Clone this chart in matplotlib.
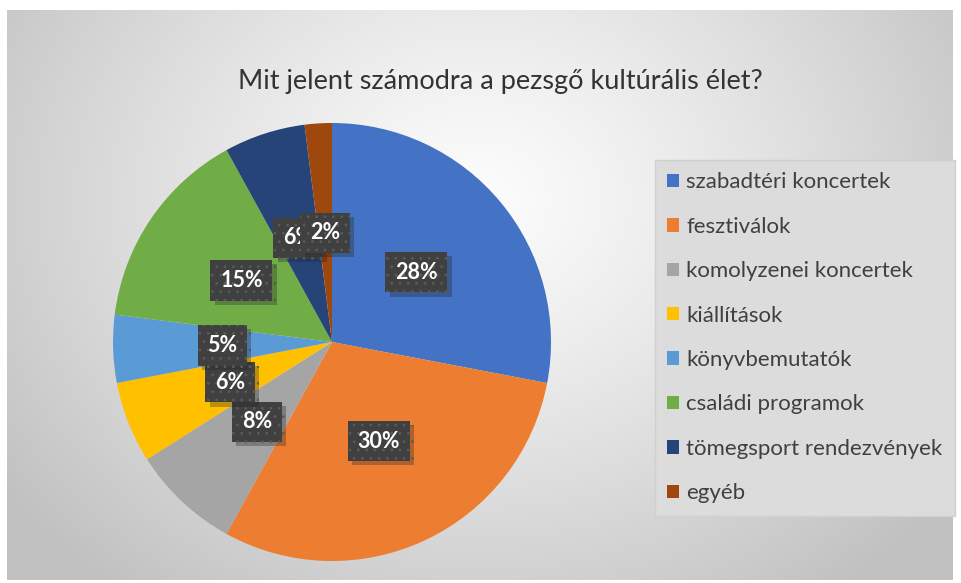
import matplotlib.pyplot as plt
import numpy as np
from matplotlib.patches import Patch
import matplotlib.patheffects as pe

plt.rcParams['font.family'] = ['Lato', 'DejaVu Sans']
plt.rcParams['hatch.linewidth'] = 0.8

title = 'Mit jelent számodra a pezsgő kultúrális élet?'
categories = ['szabadtéri koncertek', 'fesztiválok', 'komolyzenei koncertek', 'kiállítások',
              'könyvbemutatók', 'családi programok', 'tömegsport rendezvények', 'egyéb']
values = [28, 30, 8, 6, 5, 15, 6, 2]
colors = ['#4472C4', '#ED7D31', '#A5A5A5', '#FFC000', '#5B9BD5', '#70AD47', '#264478', '#9E480E']

W, H = 962, 583
fig = plt.figure(figsize=(W / 100, H / 100), dpi=100)
fig.patch.set_facecolor('white')

# radial gradient background of the chart area
bg = fig.add_axes([7 / W, 3 / H, 946 / W, 570 / H])
yy, xx = np.mgrid[0:570, 0:946]
d = np.sqrt(((xx - 470) / 560) ** 2 + ((yy - 190) / 470) ** 2)
g = np.clip(0.99 - 0.22 * d ** 1.2, 0.76, 1)
bg.imshow(np.dstack([g, g, g]), aspect='auto', interpolation='bilinear')
bg.axis('off')

fig.text(500 / W, 1 - 81 / H, title, ha='center', va='center', fontsize=19.5, color='#333333')

# pie
cx, cy, R = 332, 342, 219
ax = fig.add_axes([(cx - R) / W, (H - cy - R) / H, 2 * R / W, 2 * R / H])
wedges, texts, autotexts = ax.pie(values, colors=colors, startangle=90, counterclock=False,
                                  autopct='%d%%', pctdistance=0.5, radius=1,
                                  wedgeprops=dict(linewidth=0))
for t in autotexts:
    t.set_color('white')
    t.set_fontsize(15.5)
    t.set_fontweight('bold')
    t.set_bbox(dict(boxstyle='square,pad=0.45', fc='#404040', ec='#5a5a5a', hatch='..', lw=0))
    t.get_bbox_patch().set_path_effects([pe.SimplePatchShadow(offset=(3, -3), alpha=0.3,
                                                              shadow_rgbFace='#202020'),
                                         pe.Normal()])
ax.set_xlim(-1, 1)
ax.set_ylim(-1, 1)
ax.axis('off')

handles = [Patch(facecolor=c, edgecolor='none') for c in colors]
leg = fig.legend(handles, categories, loc='upper left',
                 bbox_to_anchor=(655 / W, 1 - 160 / H), fontsize=16,
                 handlelength=0.55, handleheight=0.55, handletextpad=0.3,
                 labelspacing=1.1, borderpad=0.55, borderaxespad=0, fancybox=False,
                 frameon=True, labelcolor='#404040')
leg.get_frame().set_facecolor('#dcdcdc')
leg.get_frame().set_edgecolor('#d0d0d0')
leg.get_frame().set_alpha(1)

fig.savefig('out.png', dpi=100)
